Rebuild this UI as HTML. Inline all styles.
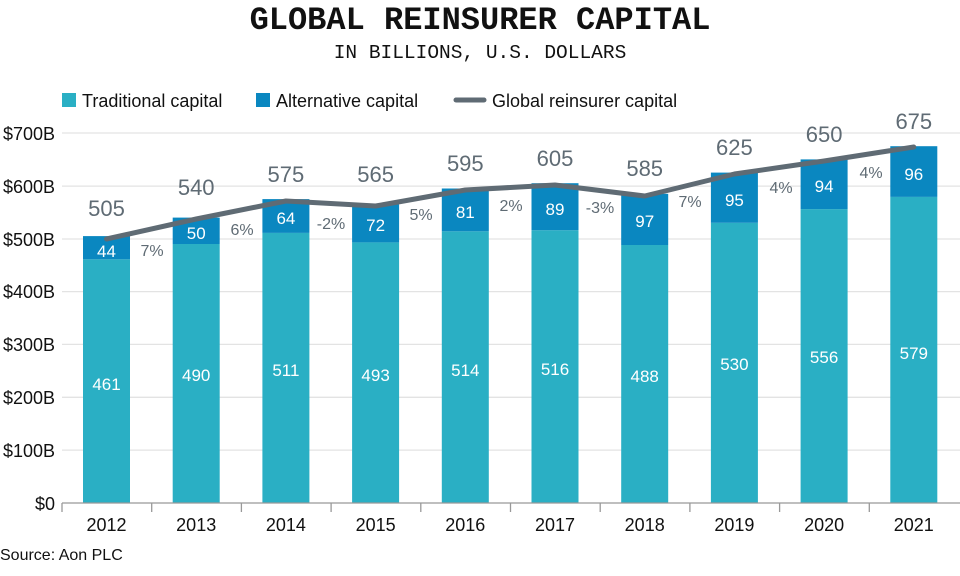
<!DOCTYPE html>
<html><head><meta charset="utf-8"><style>
html,body{margin:0;padding:0;background:#fff;}
svg{display:block;font-family:"Liberation Sans",sans-serif;}
</style></head><body>
<svg width="960" height="576" viewBox="0 0 960 576" xmlns="http://www.w3.org/2000/svg">
<text x="480" y="29" text-anchor="middle" font-family="Liberation Mono,monospace" font-weight="bold" font-size="32" fill="#111">GLOBAL REINSURER CAPITAL</text>
<text x="480" y="58" text-anchor="middle" font-family="Liberation Mono,monospace" font-size="19.5" fill="#111">IN BILLIONS, U.S. DOLLARS</text>
<rect x="62" y="93" width="14" height="14" fill="#2aafc4"/>
<text x="82" y="107" font-size="18" fill="#111">Traditional capital</text>
<rect x="256" y="93" width="14" height="14" fill="#0a87c0"/>
<text x="276" y="107" font-size="18" fill="#111">Alternative capital</text>
<line x1="456" y1="100" x2="484" y2="100" stroke="#5f6b74" stroke-width="5" stroke-linecap="round"/>
<text x="492" y="107" font-size="18" fill="#111">Global reinsurer capital</text>
<g stroke="#e3e3e3" stroke-width="1.3">
<line x1="62" x2="960" y1="133" y2="133"/><line x1="62" x2="960" y1="186.1" y2="186.1"/><line x1="62" x2="960" y1="239" y2="239"/><line x1="62" x2="960" y1="291.6" y2="291.6"/><line x1="62" x2="960" y1="344.4" y2="344.4"/><line x1="62" x2="960" y1="397.3" y2="397.3"/><line x1="62" x2="960" y1="450.1" y2="450.1"/>
</g>
<g font-size="18" fill="#111" text-anchor="end">
<text x="55" y="140">$700B</text><text x="55" y="193">$600B</text><text x="55" y="246">$500B</text><text x="55" y="298">$400B</text><text x="55" y="351">$300B</text><text x="55" y="404">$200B</text><text x="55" y="457">$100B</text><text x="55" y="510">$0</text>
</g>
<g fill="#2aafc4">
<rect x="83" y="259.3" width="47" height="243.7"/><rect x="172.7" y="244" width="47" height="259"/><rect x="262.4" y="232.9" width="47" height="270.1"/><rect x="352.1" y="242.4" width="47" height="260.6"/><rect x="441.8" y="231.3" width="47" height="271.7"/><rect x="531.5" y="230.2" width="47" height="272.8"/><rect x="621.2" y="245" width="47" height="258"/><rect x="710.9" y="222.8" width="47" height="280.2"/><rect x="800.6" y="209.1" width="47" height="293.9"/><rect x="890.3" y="196.9" width="47" height="306.1"/>
</g>
<g fill="#0a87c0">
<rect x="83" y="236.1" width="47" height="23.2"/><rect x="172.7" y="217.6" width="47" height="26.4"/><rect x="262.4" y="199.1" width="47" height="33.8"/><rect x="352.1" y="204.3" width="47" height="38.1"/><rect x="441.8" y="188.5" width="47" height="42.8"/><rect x="531.5" y="183.2" width="47" height="47"/><rect x="621.2" y="193.8" width="47" height="51.2"/><rect x="710.9" y="172.6" width="47" height="50.2"/><rect x="800.6" y="159.4" width="47" height="49.7"/><rect x="890.3" y="146.2" width="47" height="50.7"/>
</g>
<g font-size="17" fill="#fff" text-anchor="middle">
<text x="106.5" y="390">461</text><text x="196.2" y="381">490</text><text x="285.9" y="376">511</text><text x="375.6" y="381">493</text><text x="465.3" y="376">514</text><text x="555" y="375">516</text><text x="644.7" y="382">488</text><text x="734.4" y="370">530</text><text x="824.1" y="363">556</text><text x="913.8" y="359">579</text>
<text x="106.5" y="257">44</text><text x="196.2" y="239">50</text><text x="285.9" y="224">64</text><text x="375.6" y="231">72</text><text x="465.3" y="218">81</text><text x="555" y="215">89</text><text x="644.7" y="227">97</text><text x="734.4" y="206">95</text><text x="824.1" y="192">94</text><text x="913.8" y="180">96</text>
</g>
<polyline points="106.5,239 196.2,219 285.9,201 375.6,206 465.3,190 555,185 644.7,196 734.4,174 824.1,161 913.8,147" fill="none" stroke="#5f6b74" stroke-width="5" stroke-linejoin="round" stroke-linecap="round"/>
<g font-size="22" fill="#5f6b74" text-anchor="middle">
<text x="106.5" y="216">505</text><text x="196.2" y="195">540</text><text x="285.9" y="182">575</text><text x="375.6" y="182">565</text><text x="465.3" y="171">595</text><text x="555" y="166">605</text><text x="644.7" y="176">585</text><text x="734.4" y="155">625</text><text x="824.1" y="142">650</text><text x="913.8" y="129">675</text>
</g>
<g font-size="16" fill="#5f6b74" text-anchor="middle">
<text x="152" y="256">7%</text><text x="242" y="235">6%</text><text x="331" y="229">-2%</text><text x="421" y="220">5%</text><text x="511" y="211">2%</text><text x="600" y="213">-3%</text><text x="690" y="207">7%</text><text x="781" y="193">4%</text><text x="871" y="178">4%</text>
</g>
<line x1="62" x2="960" y1="503" y2="503" stroke="#999" stroke-width="1.3"/>
<g stroke="#999" stroke-width="1.3">
<line x1="62" x2="62" y1="503" y2="512"/><line x1="151.7" x2="151.7" y1="503" y2="512"/><line x1="241.4" x2="241.4" y1="503" y2="512"/><line x1="331.1" x2="331.1" y1="503" y2="512"/><line x1="420.8" x2="420.8" y1="503" y2="512"/><line x1="510.5" x2="510.5" y1="503" y2="512"/><line x1="600.2" x2="600.2" y1="503" y2="512"/><line x1="689.9" x2="689.9" y1="503" y2="512"/><line x1="779.6" x2="779.6" y1="503" y2="512"/><line x1="869.3" x2="869.3" y1="503" y2="512"/>
</g>
<g font-size="18" fill="#111" text-anchor="middle">
<text x="106.5" y="531">2012</text><text x="196.2" y="531">2013</text><text x="285.9" y="531">2014</text><text x="375.6" y="531">2015</text><text x="465.3" y="531">2016</text><text x="555" y="531">2017</text><text x="644.7" y="531">2018</text><text x="734.4" y="531">2019</text><text x="824.1" y="531">2020</text><text x="913.8" y="531">2021</text>
</g>
<text x="0" y="560" font-size="16" fill="#111">Source: Aon PLC</text>
</svg>
</body></html>
